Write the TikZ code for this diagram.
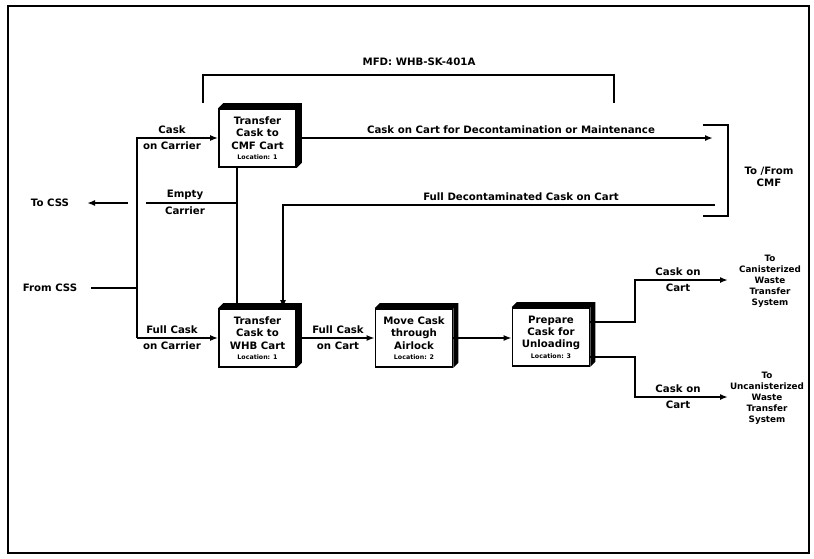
\documentclass[tikz,border=0pt]{standalone}
\usepackage{fontspec}
\setmainfont{DejaVu Sans}
\usetikzlibrary{arrows.meta}
\newcommand\locfont{\fontsize{6.3}{7}\selectfont}
\newcommand\cubeface[1]{%
  \fill (#1.north west) -- ([shift={(5,-5)}]#1.north west) -- ([shift={(5,-5)}]#1.north east)
    -- ([shift={(5,-5)}]#1.south east) -- (#1.south east) -- (#1.north east) -- cycle;}
\begin{document}
\begin{tikzpicture}[x=1pt,y=-1pt,
  font=\bfseries\fontsize{10.2}{12.4}\selectfont,
  conn/.style={line width=1.7pt},
  arr/.style={conn,-{Latex[length=8pt,width=6pt]}},
  box/.style={draw,line width=1.7pt,fill=white,minimum width=77pt,minimum height=58pt,
    inner sep=1pt,align=center},
  lbl/.style={inner sep=0pt,align=center},
  dest/.style={inner sep=0pt,align=center,font=\bfseries\fontsize{8.8}{11}\selectfont}]
\useasboundingbox (0,0) rectangle (814,558);
\draw[line width=1.5pt] (8,6) rectangle (809,553);

% boxes
\node[box] (b1) at (257.5,138) {Transfer\\Cask to\\CMF Cart\\[-2pt]{\locfont Location: 1}};
\cubeface{b1}
\node[box] (b2) at (257.5,338) {Transfer\\Cask to\\WHB Cart\\[-2pt]{\locfont Location: 1}};
\cubeface{b2}
\node[box] (b3) at (414,338) {Move Cask\\through\\Airlock\\[-2pt]{\locfont Location: 2}};
\cubeface{b3}
\node[box] (b4) at (551,337) {Prepare\\Cask for\\Unloading\\[-2pt]{\locfont Location: 3}};
\cubeface{b4}

% texts
\node[lbl] (mfd) at (419,62) {MFD: WHB-SK-401A};
\node[lbl] (tocss) at (50,203) {To CSS};
\node[lbl] (fromcss) at (50,288) {From CSS};
\node[lbl] (cmf) at (769,177) {To /From\\CMF};
\node[dest] (can) at (770,281) {To\\Canisterized\\Waste\\Transfer\\System};
\node[dest] (uncan) at (767,398) {To\\Uncanisterized\\Waste\\Transfer\\System};

% coordinates
\coordinate (tA) at (137,138);
\coordinate (tB) at (137,338);
\coordinate (tF) at (137,288);
\coordinate (fcs) at (91,288);
\coordinate (jx) at (237,203);
\coordinate (eL) at (146,203);
\coordinate (eR) at (128,203);
\coordinate (tcs) at (87,203);
\coordinate (fdR) at (715,205);
\coordinate (fdL) at (283,205);
\coordinate (cmfTip) at (713,138);
\coordinate (m1) at (203,103);
\coordinate (m2) at (614,103);
\coordinate (rb1) at (703,125);
\coordinate (rb2) at (703,216);
\coordinate (up) at (635,280);
\coordinate (dn) at (635,397);
\coordinate (upT) at (728,280);
\coordinate (dnT) at (728,397);

% MFD bracket
\draw[conn] (m1) -- (m1 |- 0,75) -- (m2 |- 0,75) -- (m2);
% right bracket
\draw[conn] (rb1) -- (rb1 -| 728,0) -- (rb2 -| 728,0) -- (rb2);

% left trunk
\draw[arr] (tB) -- (tA) -- (b1.west |- tA);
\draw[arr] (tB) -- (b2.west |- tB);
\draw[conn] (fcs) -- (tF);

% vertical between b1 and b2
\draw[conn] (b1.south -| jx) -- (b2.north -| jx);
% empty carrier
\draw[conn] (jx) -- (eL);
\draw[arr] (eR) -- (tcs);

% to / from CMF
\draw[arr] (b1.east |- cmfTip) -- (cmfTip);
\draw[arr] (fdR) -- (fdL) -- (b2.north -| fdL);

% main flow
\draw[arr] (b2.east) -- (b3.west);
\draw[arr] (b3.east |- 0,338) -- (b4.west |- 0,338);
\draw[arr] (b4.east |- 0,322) -- (up |- 0,322) -- (up) -- (upT);
\draw[arr] (b4.east |- 0,357) -- (dn |- 0,357) -- (dn) -- (dnT);

% connector labels
\node[lbl] at (172,130) {Cask};
\node[lbl] at (172,146) {on Carrier};
\node[lbl] at (185,195) {Empty};
\node[lbl] at (185,211) {Carrier};
\node[lbl] at (172,330) {Full Cask};
\node[lbl] at (172,346) {on Carrier};
\node[lbl] at (338,330) {Full Cask};
\node[lbl] at (338,346) {on Cart};
\node[lbl] at (511,130) {Cask on Cart for Decontamination or Maintenance};
\node[lbl] at (521,197) {Full Decontaminated Cask on Cart};
\node[lbl] at (678,272) {Cask on};
\node[lbl] at (678,288) {Cart};
\node[lbl] at (678,389) {Cask on};
\node[lbl] at (678,405) {Cart};
\end{tikzpicture}
\end{document}
